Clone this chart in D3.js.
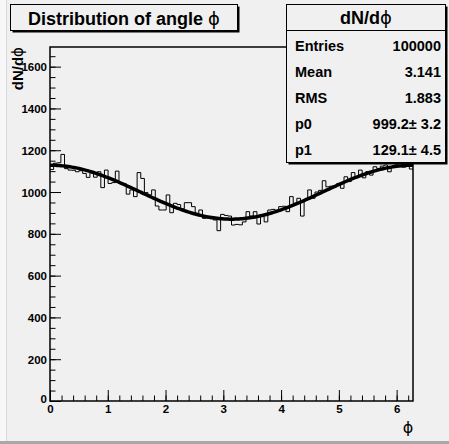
<!DOCTYPE html>
<html>
<head>
<meta charset="utf-8">
<script src="https://cdn.jsdelivr.net/npm/d3@7"></script>
<style>
  body { margin: 0; background: #f0f0f0; }
  text { font-family: "Liberation Sans", Arial, sans-serif; }
  .sym { font-family: "DejaVu Sans", sans-serif; font-weight: normal; }
</style>
</head>
<body>
<div id="container"></div>
<script>
// histogram contents, 100 bins over [0, 2pi]
const counts = [
  1108, 1138, 1140, 1180, 1112, 1105, 1104, 1097, 1102, 1089,
  1070, 1094, 1071, 1097, 1021, 1105, 1041, 1045, 1100, 1041,
  1040, 990, 1010, 978, 1093, 1065, 997, 986, 1010, 933,
  914, 914, 986, 901, 946, 940, 920, 949, 949, 930,
  898, 914, 874, 876, 872, 866, 815, 893, 888, 885,
  842, 845, 843, 857, 906, 885, 906, 847, 882, 857,
  914, 917, 912, 930, 932, 906, 978, 946, 970, 885,
  962, 1010, 970, 1000, 1008, 1054, 1025, 1028, 1025, 1041,
  1018, 1073, 1050, 1093, 1073, 1105, 1068, 1098, 1081, 1121,
  1113, 1124, 1129, 1097, 1119, 1130, 1121, 1119, 1135, 1110
];
const xTicks = [0, 1, 2, 3, 4, 5, 6];
const yTicks = [0, 200, 400, 600, 800, 1000, 1200, 1400, 1600];
const statLabels = ["Entries", "Mean", "RMS", "p0", "p1"];
const statValues = ["100000", "3.141", "1.883", "999.2\u00b1 3.2", "129.1\u00b1 4.5"];
// fit parameters: p0 + p1*cos(x)
const p0 = 999.2;
const p1 = 129.1;

const W = 449, H = 444;
const fLeft = 50, fRight = 413, fTop = 47, fBottom = 401;
const xMax = 2 * Math.PI;
const yMax = 1694;
const PHI = "\u03d5";

const svg = d3.select("#container").append("svg")
  .attr("width", W)
  .attr("height", H)
  .style("display", "block");

// canvas
svg.append("rect").attr("width", W).attr("height", H).attr("fill", "#f0f0f0");
svg.append("rect").attr("x", 0).attr("y", 0).attr("width", 6).attr("height", H).attr("fill", "#f7f7f7");
svg.append("line").attr("x1", 6.5).attr("x2", 6.5).attr("y1", 0).attr("y2", H)
  .attr("stroke", "#d8d8d8");
svg.append("rect").attr("x", 0).attr("y", 441).attr("width", W).attr("height", 3).attr("fill", "#a8a8a8");

const xScale = d3.scaleLinear().domain([0, xMax]).range([fLeft, fRight]);
const yScale = d3.scaleLinear().domain([0, yMax]).range([fBottom, fTop]);

// histogram
const nb = counts.length;
const bw = xMax / nb;
const steps = [];
counts.forEach((c, i) => {
  steps.push([i * bw, c]);
  steps.push([(i + 1) * bw, c]);
});
svg.append("path")
  .attr("d", d3.line().x(d => xScale(d[0])).y(d => yScale(d[1]))(steps))
  .attr("fill", "none")
  .attr("stroke", "#000")
  .attr("stroke-width", 1);

// fit curve
const fit = d3.range(0, 201).map(k => {
  const x = k / 200 * xMax;
  return [x, p0 + p1 * Math.cos(x)];
});
svg.append("path")
  .attr("d", d3.line().x(d => xScale(d[0])).y(d => yScale(d[1])).curve(d3.curveBasis)(fit))
  .attr("fill", "none")
  .attr("stroke", "#000")
  .attr("stroke-width", 3.5);

// axes, ticks point inside the frame
const labelStyle = g => g.selectAll("text")
  .attr("font-size", 11.5).attr("font-weight", "bold")
  .attr("font-family", "Liberation Sans, Arial, sans-serif").attr("fill", "#000");

const xMinor = d3.range(0, 6.21, 0.2);
svg.append("g")
  .attr("transform", `translate(0,${fBottom})`)
  .call(d3.axisBottom(xScale).tickValues(xMinor).tickSize(-5.5).tickFormat(""))
  .call(g => g.select(".domain").remove());
svg.append("g")
  .attr("transform", `translate(0,${fBottom})`)
  .call(d3.axisBottom(xScale).tickValues(xTicks).tickSize(-11).tickPadding(4).tickFormat(d3.format("d")))
  .call(g => g.select(".domain").remove())
  .call(labelStyle);

const yMinor = d3.range(0, 1651, 50);
svg.append("g")
  .attr("transform", `translate(${fLeft},0)`)
  .call(d3.axisLeft(yScale).tickValues(yMinor).tickSize(-5.5).tickFormat(""))
  .call(g => g.select(".domain").remove());
svg.append("g")
  .attr("transform", `translate(${fLeft},0)`)
  .call(d3.axisLeft(yScale).tickValues(yTicks).tickSize(-11).tickPadding(3).tickFormat(d3.format("d")))
  .call(g => g.select(".domain").remove())
  .call(labelStyle)
  .call(g => g.selectAll("text").attr("dy", d => d === 0 ? "0.1em" : "0.36em"));
svg.selectAll(".tick line").attr("stroke", "#000");

// frame
svg.append("rect")
  .attr("x", fLeft).attr("y", fTop)
  .attr("width", fRight - fLeft).attr("height", fBottom - fTop)
  .attr("fill", "none").attr("stroke", "#000").attr("stroke-width", 1.5);

// text with a thin phi at the end
const phiText = (sel, base) => {
  sel.append("tspan").text(base);
  sel.append("tspan").attr("class", "sym").text(PHI);
  return sel;
};

// axis titles
svg.append("text")
  .attr("transform", `translate(23,${fTop}) rotate(-90)`)
  .attr("text-anchor", "end")
  .attr("font-size", 15).attr("font-weight", "bold")
  .call(phiText, "dN/d");
svg.append("text")
  .attr("x", 408).attr("y", 433)
  .attr("text-anchor", "middle")
  .attr("font-size", 16)
  .attr("class", "sym")
  .text(PHI);

// title box
const drawBox = (x, y, w, h) => {
  svg.append("rect").attr("x", x + 2).attr("y", y + 2).attr("width", w).attr("height", h).attr("fill", "#000");
  svg.append("rect").attr("x", x).attr("y", y).attr("width", w).attr("height", h)
    .attr("fill", "#f0f0f0").attr("stroke", "#000").attr("stroke-width", 1);
};
drawBox(10.5, 4.5, 227, 26);
svg.append("text")
  .attr("x", 124).attr("y", 24.5)
  .attr("text-anchor", "middle")
  .attr("font-size", 18).attr("font-weight", "bold")
  .call(phiText, "Distribution of angle ");

// stats box
drawBox(286.5, 4.5, 159, 158);
svg.append("line").attr("x1", 286.5).attr("x2", 445.5).attr("y1", 30.5).attr("y2", 30.5)
  .attr("stroke", "#000");
svg.append("text")
  .attr("x", 366).attr("y", 23.5)
  .attr("text-anchor", "middle")
  .attr("font-size", 18).attr("font-weight", "bold")
  .call(phiText, "dN/d");
const statRows = svg.append("g").selectAll("g")
  .data(statLabels)
  .enter().append("g")
  .attr("transform", (d, i) => `translate(0,${51 + i * 26})`);
statRows.append("text")
  .attr("x", 295)
  .attr("font-size", 14.5).attr("font-weight", "bold")
  .text(d => d);
statRows.append("text")
  .attr("x", 441)
  .attr("text-anchor", "end")
  .attr("font-size", 14.5).attr("font-weight", "bold")
  .text((d, i) => statValues[i]);
</script>
</body>
</html>
